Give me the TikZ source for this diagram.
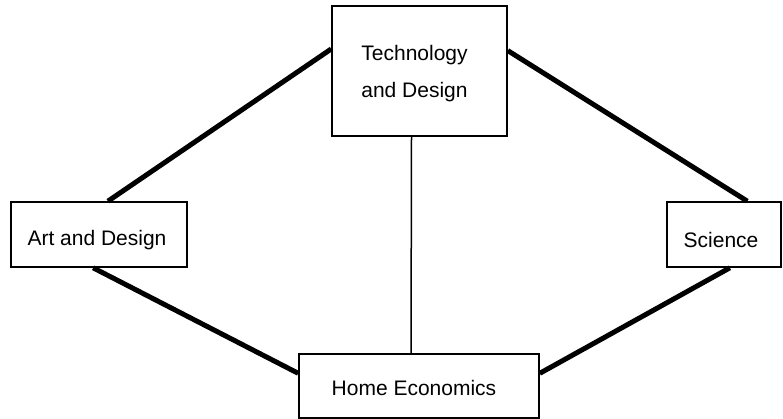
\documentclass[tikz,border=0pt]{standalone}
\usepackage{fontspec}
\setmainfont{Liberation Sans}
\usepackage{tikz}
\usetikzlibrary{positioning,calc}

% move the ink of a label without changing its box
\newcommand{\subjtext}[3]{\hspace*{#1}\raisebox{#2}[\height][\depth]{#3}\hspace*{-#1}}

\tikzset{
  subject/.style={draw, line width=1.6pt, inner sep=0pt, align=center,
    font=\fontsize{21}{37}\selectfont},
  link/.style={line width=5pt},
  thinlink/.style={line width=1.5pt}
}

\begin{document}
\begin{tikzpicture}[x=1pt,y=-1pt]
    \useasboundingbox (0,0) rectangle (783,419);

    % Subject boxes
    \node[subject, minimum width=175pt, minimum height=130pt] (td) at (419.5,71)
        {\subjtext{-5pt}{-3pt}{Technology}\\\subjtext{-5pt}{-3pt}{and Design}};
    \node[subject, minimum width=176pt, minimum height=65pt] (art) at (99,234.5)
        {\subjtext{-2pt}{-6pt}{Art and Design}};
    \node[subject, minimum width=114pt, minimum height=65pt] (sci) at (724,234.5)
        {\subjtext{-3pt}{-5pt}{Science}};
    \node[subject, minimum width=240pt, minimum height=64pt] (home) at (419,386)
        {\subjtext{-5pt}{-2pt}{Home Economics}};

    % Thick links round the outside
    \draw[link] (td.166) -- (art.75);
    \draw[link] (td.13) -- (sci.55);
    \draw[link] (art.260) -- (home.174);
    \draw[link] (sci.280) -- (home.6);

    % Thin link down the middle
    \draw[thinlink] ([xshift=-8pt]td.south) -- ([xshift=-8pt]home.north);
\end{tikzpicture}
\end{document}
